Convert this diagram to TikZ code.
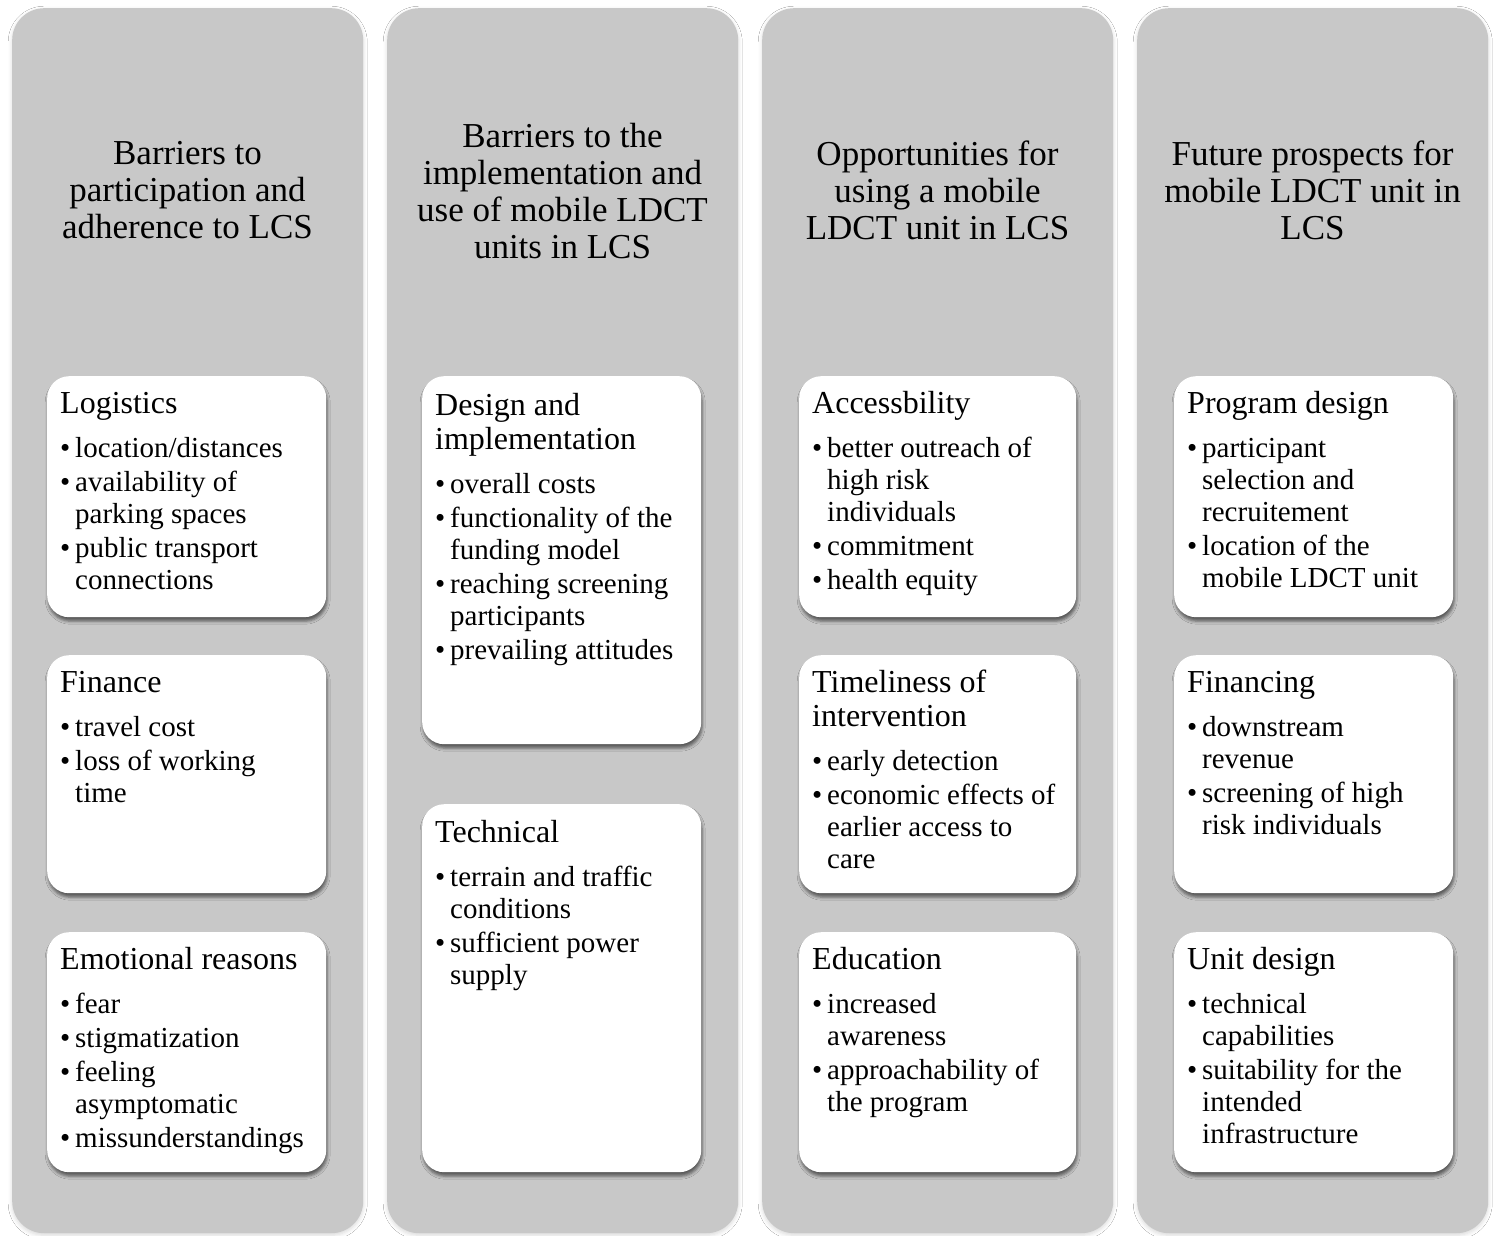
\documentclass[tikz,border=0pt]{standalone}
\usepackage{fontspec}
\setmainfont{Liberation Serif}
\usetikzlibrary{shadows.blur}
\definecolor{colgrey}{RGB}{200,200,200}
\newcommand{\hd}[1]{{\fontsize{32}{32}\selectfont #1}}
\newcommand{\hdf}[1]{\rule{0pt}{30pt}{\fontsize{32}{32}\selectfont #1}}
\newcommand{\bl}{\makebox[15pt][l]{\textbullet}}
\newcommand{\ind}{\hspace*{15pt}}
\tikzset{
  col/.style={fill=colgrey, draw=none, rounded corners=32pt, anchor=north west,
    minimum width=351pt, minimum height=1225pt, inner sep=0pt,
    blur shadow={shadow xshift=0pt, shadow yshift=-2pt, shadow blur radius=4pt, shadow opacity=15}},
  card/.style={fill=white, draw=none, rounded corners=22pt, anchor=north west, inner sep=0pt,
    minimum width=279pt,
    blur shadow={shadow xshift=1pt, shadow yshift=-4pt, shadow blur radius=3pt, shadow opacity=55}},
  coltitle/.style={align=center, anchor=center, inner sep=0pt, font=\fontsize{35}{37}\selectfont},
  cardtext/.style={align=left, anchor=north west, inner sep=0pt, font=\fontsize{29}{32}\selectfont},
}
\begin{document}
\begin{tikzpicture}[x=1pt,y=-1pt]
\useasboundingbox[fill=white] (0,0) rectangle (1499,1236);
% columns
\node[col] (col1) at (12,8) {};
\node[col] (col2) at (387,8) {};
\node[col] (col3) at (762,8) {};
\node[col] (col4) at (1137,8) {};
% titles
\node[coltitle] (h1) at (187.5,190) {Barriers to\\participation and\\adherence to LCS};
\node[coltitle] (h2) at (562.5,191) {Barriers to the\\implementation and\\use of mobile LDCT\\units in LCS};
\node[coltitle] (h3) at (937.5,190) {Opportunities for\\using a mobile\\LDCT unit in LCS};
\node[coltitle] (h4) at (1312.5,190) {Future prospects for\\mobile LDCT unit in\\LCS};
% cards column 1
\node[card, minimum height=241pt] (c11) at (47,376) {};
\node[card, minimum height=238pt] (c12) at (47,655) {};
\node[card, minimum height=240pt] (c13) at (47,932) {};
% column 2
\node[card, minimum height=368pt] (c21) at (422,376) {};
\node[card, minimum height=368pt] (c22) at (422,804) {};
% column 3
\node[card, minimum width=277pt, minimum height=241pt] (c31) at (799,376) {};
\node[card, minimum width=277pt, minimum height=238pt] (c32) at (799,655) {};
\node[card, minimum width=277pt, minimum height=240pt] (c33) at (799,932) {};
% column 4
\node[card, minimum height=241pt] (c41) at (1174,376) {};
\node[card, minimum height=238pt] (c42) at (1174,655) {};
\node[card, minimum height=240pt] (c43) at (1174,932) {};
% texts column 1
\node[cardtext] (t11) at (60,383) {\hdf{Logistics}\\[12pt]
  \bl location/distances\\[2pt]
  \bl availability of\\ \ind parking spaces\\[2pt]
  \bl public transport\\ \ind connections};
\node[cardtext] (t12) at (60,662) {\hdf{Finance}\\[12pt]
  \bl travel cost\\[2pt]
  \bl loss of working\\ \ind time};
\node[cardtext] (t13) at (60,939) {\hdf{Emotional reasons}\\[12pt]
  \bl fear\\[2pt]
  \bl stigmatization\\[2pt]
  \bl feeling\\ \ind asymptomatic\\[2pt]
  \bl missunderstandings};
% texts column 2
\node[cardtext] (t21) at (435,385) {\hdf{Design and}\\[2pt]\hd{implementation}\\[12pt]
  \bl overall costs\\[2pt]
  \bl functionality of the\\ \ind funding model\\[2pt]
  \bl reaching screening\\ \ind participants\\[2pt]
  \bl prevailing attitudes};
\node[cardtext] (t22) at (435,812) {\hdf{Technical}\\[12pt]
  \bl terrain and traffic\\ \ind conditions\\[2pt]
  \bl sufficient power\\ \ind supply};
% texts column 3
\node[cardtext] (t31) at (812,383) {\hdf{Accessbility}\\[12pt]
  \bl better outreach of\\ \ind high risk\\ \ind individuals\\[2pt]
  \bl commitment\\[2pt]
  \bl health equity};
\node[cardtext] (t32) at (812,662) {\hdf{Timeliness of}\\[2pt]\hd{intervention}\\[12pt]
  \bl early detection\\[2pt]
  \bl economic effects of\\ \ind earlier access to\\ \ind care};
\node[cardtext] (t33) at (812,939) {\hdf{Education}\\[12pt]
  \bl increased\\ \ind awareness\\[2pt]
  \bl approachability of\\ \ind the program};
% texts column 4
\node[cardtext] (t41) at (1187,383) {\hdf{Program design}\\[12pt]
  \bl participant\\ \ind selection and\\ \ind recruitement\\[2pt]
  \bl location of the\\ \ind mobile LDCT unit};
\node[cardtext] (t42) at (1187,662) {\hdf{Financing}\\[12pt]
  \bl downstream\\ \ind revenue\\[2pt]
  \bl screening of high\\ \ind risk individuals};
\node[cardtext] (t43) at (1187,939) {\hdf{Unit design}\\[12pt]
  \bl technical\\ \ind capabilities\\[2pt]
  \bl suitability for the\\ \ind intended\\ \ind infrastructure};
\end{tikzpicture}
\end{document}
